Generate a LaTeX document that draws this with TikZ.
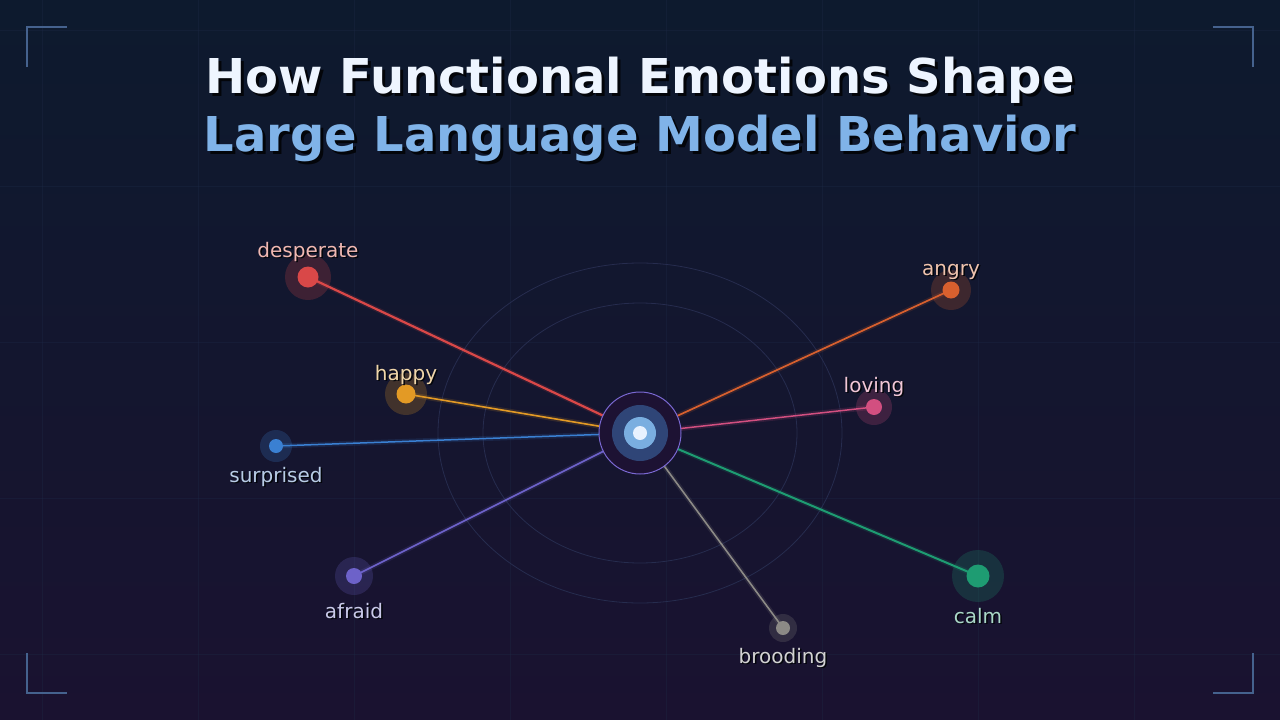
\documentclass[tikz,border=0pt]{standalone}
\usepackage{fontspec}
\setmainfont{DejaVu Sans}
\newfontfamily\titlefont{DejaVu Sans}
\definecolor{bgtop}{HTML}{0D1A2E}
\definecolor{bgbot}{HTML}{1A1230}
\definecolor{gridc}{HTML}{1E2A46}
\definecolor{ringc}{HTML}{262C4E}
\definecolor{bracket}{HTML}{45628E}
\definecolor{cDesp}{HTML}{D94848}
\definecolor{cAngry}{HTML}{D8602E}
\definecolor{cHappy}{HTML}{E39A25}
\definecolor{cLoving}{HTML}{D24F80}
\definecolor{cSurp}{HTML}{3A80D2}
\definecolor{cAfraid}{HTML}{6D62C9}
\definecolor{cCalm}{HTML}{1E9C72}
\definecolor{cBrood}{HTML}{8C8A86}
\definecolor{lDesp}{HTML}{F0B8B2}
\definecolor{lAngry}{HTML}{F0C4AE}
\definecolor{lHappy}{HTML}{F0D6AA}
\definecolor{lLoving}{HTML}{F0C6D6}
\definecolor{lSurp}{HTML}{B8CCE6}
\definecolor{lAfraid}{HTML}{CACAEA}
\definecolor{lCalm}{HTML}{AAD8C8}
\definecolor{lBrood}{HTML}{D2D2D2}
\definecolor{titleA}{HTML}{EEF5FF}
\definecolor{titleB}{HTML}{80B3E8}
\definecolor{shadowc}{HTML}{03050A}
\definecolor{cOuter}{HTML}{1D1233}
\definecolor{cOuterLine}{HTML}{7A68D2}
\definecolor{cMid}{HTML}{2F4577}
\definecolor{cIn}{HTML}{7AAEE0}
\definecolor{cCore}{HTML}{E8F2FF}
% text with a drop shadow, set as one piece of text
\newcommand{\shadowtext}[3]{\makebox[0pt][l]{\hspace*{#1}\raisebox{-#1}{\color{shadowc}#3}}{\color{#2}#3}}
\tikzset{
  emo/.style={circle, fill=#1, minimum size=0pt, inner sep=0pt},
  halo/.style={fill=#1, fill opacity=0.22},
  glowline/.style={draw=#1, line width=5pt, opacity=0.15, line cap=round},
  emoline/.style={draw=#1, line width=1.7pt, line cap=round},
  lbl/.style={font=\fontsize{20}{20}\selectfont, anchor=base, inner sep=0pt},
  ttl/.style={font=\titlefont\bfseries\fontsize{48}{48}\selectfont, anchor=base, inner sep=0pt},
}
\begin{document}
\begin{tikzpicture}[x=1pt,y=-1pt]
\useasboundingbox (0,0) rectangle (1280,720);
\shade[top color=bgtop, bottom color=bgbot] (0,0) rectangle (1280,720);
% grid
\foreach \gx in {42,198,354,510,666,822,978,1134}
  \draw[gridc, line width=0.8pt, opacity=0.35] (\gx,0) -- (\gx,720);
\foreach \gy in {30,186,342,498,654}
  \draw[gridc, line width=0.8pt, opacity=0.35] (0,\gy) -- (1280,\gy);
% corner brackets
\draw[bracket, line width=1.5pt] (27,67) -- (27,27) -- (67,27);
\draw[bracket, line width=1.5pt] (1213,27) -- (1253,27) -- (1253,67);
\draw[bracket, line width=1.5pt] (27,653) -- (27,693) -- (67,693);
\draw[bracket, line width=1.5pt] (1213,693) -- (1253,693) -- (1253,653);
% rings
\draw[ringc, line width=0.8pt] (640,433) ellipse [x radius=202, y radius=170];
\draw[ringc, line width=0.8pt] (640,433) ellipse [x radius=157, y radius=130];
% title
\node[ttl] (t1) at (640,93) {\shadowtext{3pt}{titleA}{How Functional Emotions Shape}};
\node[ttl] (t2) at (640,151) {\shadowtext{3pt}{titleB}{Large Language Model Behavior}};
% center coordinate
\coordinate (c) at (640,433);
% emotion nodes (positions)
\coordinate (desp) at (308,277);
\coordinate (angry) at (951,290);
\coordinate (happy) at (406,394);
\coordinate (loving) at (874,407);
\coordinate (surp) at (276,446);
\coordinate (afraid) at (354,576);
\coordinate (calm) at (978,576);
\coordinate (brood) at (783,628);
% halos
\fill[halo=cDesp] (desp) circle (23);
\fill[halo=cAngry] (angry) circle (20);
\fill[halo=cHappy] (happy) circle (21);
\fill[halo=cLoving] (loving) circle (18);
\fill[halo=cSurp] (surp) circle (16);
\fill[halo=cAfraid] (afraid) circle (19);
\fill[halo=cCalm] (calm) circle (26);
\fill[halo=cBrood] (brood) circle (14);
% connectors
\foreach \n/\col/\w in {desp/cDesp/2.2, angry/cAngry/1.7, happy/cHappy/1.6, loving/cLoving/1.5, surp/cSurp/1.5, afraid/cAfraid/1.6, calm/cCalm/2.0, brood/cBrood/1.6}{
  \draw[glowline=\col] (c) -- (\n);
  \draw[emoline=\col, line width=\w pt] (c) -- (\n);
}
% node disks
\node[emo=cDesp, minimum size=21pt] (nDesp) at (desp) {};
\node[emo=cAngry, minimum size=17pt] (nAngry) at (angry) {};
\node[emo=cHappy, minimum size=19pt] (nHappy) at (happy) {};
\node[emo=cLoving, minimum size=16pt] (nLoving) at (loving) {};
\node[emo=cSurp, minimum size=14pt] (nSurp) at (surp) {};
\node[emo=cAfraid, minimum size=16pt] (nAfraid) at (afraid) {};
\node[emo=cCalm, minimum size=23pt] (nCalm) at (calm) {};
\node[emo=cBrood, minimum size=14pt] (nBrood) at (brood) {};
% center
\node[circle, fill=cOuter, draw=cOuterLine, line width=1pt, minimum size=82pt, inner sep=0pt] (core) at (c) {};
\fill[cMid] (c) circle (28);
\fill[cIn] (c) circle (16);
\fill[cCore] (c) circle (7);
% labels
\foreach \x/\y/\col/\t/\nm in {308/257/lDesp/desperate/Ldesp, 951/275/lAngry/angry/Langry, 406/380/lHappy/happy/Lhappy, 874/392/lLoving/loving/Lloving, 276/482/lSurp/surprised/Lsurp, 354/618/lAfraid/afraid/Lafraid, 978/623/lCalm/calm/Lcalm, 783/663/lBrood/brooding/Lbrood}{
  \node[lbl] (\nm) at (\x,\y) {\shadowtext{1.5pt}{\col}{\t}};
}
\end{tikzpicture}
\end{document}
